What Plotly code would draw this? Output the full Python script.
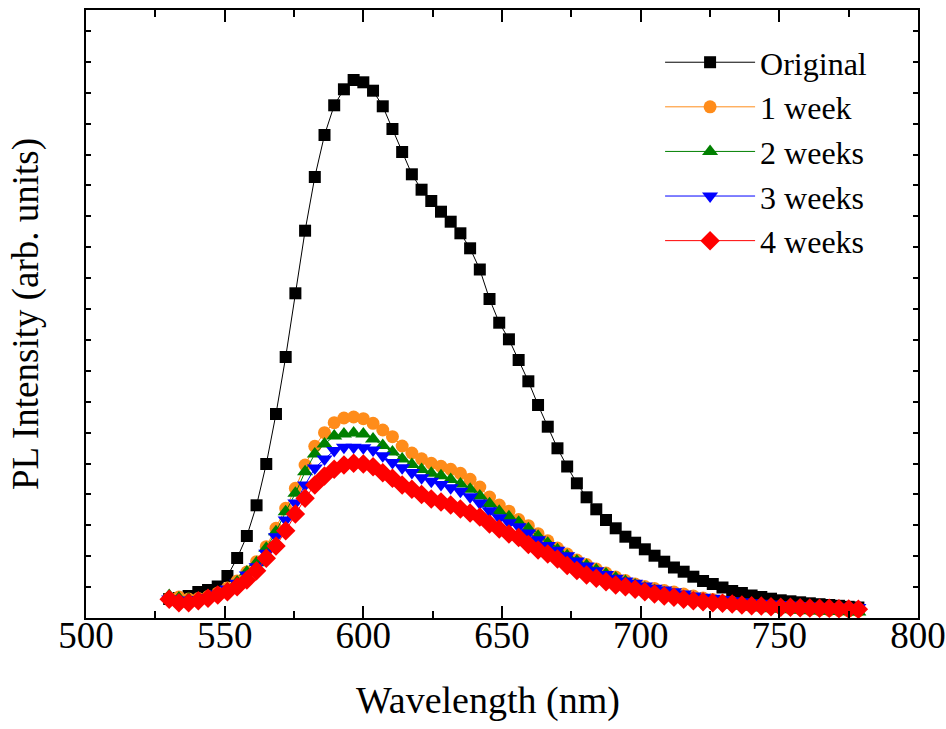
import plotly.graph_objects as go

# wavelength grid (nm): 72 points, 3.5 nm step from 530 nm
wavelength = [530 + 3.5 * k for k in range(72)]

original = [19, 20, 22, 26, 28, 31.5, 42, 60, 82, 112.7, 154, 204, 261, 324.7, 387.3, 441, 483, 512.7,
            528.7, 538, 535.7, 527.3, 511.7, 489, 466, 443.7, 428.3, 417, 406.3, 396.3, 384.7, 369.7,
            348.5, 319, 295.3, 278.7, 258, 236.7, 213, 191.3, 169.7, 151.5, 134.7, 120.7, 108.7, 98,
            89.7, 81.3, 75.3, 68.7, 62.3, 56.3, 50.5, 46.3, 41.3, 37, 34, 30.5, 27, 25, 22.5, 21, 19.3,
            17.7, 16.7, 15.7, 14.7, 13.8, 13, 12.2, 11.2, 10.5]
week1 = [20, 21, 19, 19.5, 21.5, 25, 30, 37, 46, 56.3, 71.3, 89.7, 109.7, 129.7, 153, 171.7, 185.3, 195.3,
         200, 201, 199.3, 194.7, 188, 181.3, 172, 165, 159.2, 154.7, 151.7, 148.7, 144.7, 138.7, 131,
         121, 113, 106.8, 98.5, 92.3, 84.3, 77.2, 70, 64, 58, 53.5, 49, 45, 41, 37.5, 34, 31.5, 29.5,
         27.5, 26, 24, 22, 20, 18.5, 17, 15.5, 14, 13, 12, 11, 10, 9.5, 9, 8.5, 8.2, 7.8, 7.5, 7.2, 7]
week2 = [22.5, 20, 19, 19, 21, 24.5, 29, 36, 46, 55.3, 69.7, 86.3, 106.3, 124.7, 146.3, 164, 174, 182,
         184, 185, 184, 179, 172.5, 166, 159, 153.5, 148.5, 144.7, 142.2, 138.5, 134, 128.7, 122,
         114.3, 106.7, 101.3, 95.8, 89.2, 81.7, 74.7, 68.3, 62.2, 57, 52.5, 48, 44, 40, 36.5, 33, 30,
         27.5, 25, 22.5, 20.5, 18.7, 17, 15.5, 14, 12.8, 11.7, 10.8, 10, 9.3, 8.7, 8.2, 7.7, 7.3, 7,
         6.7, 6.4, 6.2, 6]
week3 = [19, 18, 17.5, 18.5, 20.5, 24, 29, 34.7, 43, 51.3, 64.7, 81.3, 98, 115, 133, 150, 159, 167.5,
         170.7, 170.7, 170.2, 168, 162.2, 155.5, 150.2, 145.5, 140.2, 136.8, 133.5, 130.2, 126.8,
         121.3, 115, 107.3, 100.2, 95.3, 91.3, 85, 78.3, 72.5, 67.7, 62.2, 57, 52, 47.3, 43.5, 39.7,
         37, 34.7, 32, 29.7, 28, 26.3, 24, 22, 20.8, 19.7, 18.5, 17.3, 16.3, 15.3, 14.7, 14, 13.5, 13,
         12.5, 12, 11.7, 11.3, 11, 10.7, 10.5]
week4 = [18.7, 15.3, 15.3, 17.3, 19.7, 23, 26.3, 31.3, 38, 47.3, 59.7, 72, 87.3, 104, 119.7, 133, 142,
         148.7, 153, 154.7, 154, 151.3, 145.3, 139.7, 133, 128.7, 123.5, 119, 116, 113, 109, 105, 101,
         94, 89, 84, 80.5, 73.5, 68, 64, 59, 52.5, 47.5, 43, 39.7, 36.3, 33, 31.3, 28.7, 26.3, 24, 22,
         20.7, 18.7, 17.3, 16.3, 15.3, 14.7, 14, 13, 12.3, 12, 11.3, 10.7, 10.7, 10.3, 10, 9.7, 9.7,
         9.3, 9, 8.7]

series_names = ["Original", "1 week", "2 weeks", "3 weeks", "4 weeks"]
series_values = [original, week1, week2, week3, week4]
colors = ["#000000", "#FF8C1A", "#008000", "#0000FF", "#FF0000"]
symbols = ["square", "circle", "triangle-up", "triangle-down", "diamond"]
sizes = [12, 13, 14, 14, 15]

fig = go.Figure()
for name, vals, c, s, sz in zip(series_names, series_values, colors, symbols, sizes):
    fig.add_trace(go.Scatter(
        x=wavelength, y=vals, name=name, mode="lines+markers",
        line=dict(color=c, width=1),
        marker=dict(symbol=s, size=sz, color=c, line=dict(width=0)),
    ))

font_family = "Liberation Serif"
fig.update_layout(
    width=946, height=729,
    margin=dict(l=86, r=28, t=10, b=111),
    paper_bgcolor="white", plot_bgcolor="white",
    font=dict(family=font_family, color="black", size=36),
    showlegend=True,
    legend=dict(x=0.69, y=0.959, xanchor="left", yanchor="top",
                bgcolor="rgba(0,0,0,0)", font=dict(size=32, family=font_family),
                itemwidth=90, tracegroupgap=0),
    xaxis=dict(range=[500, 800], dtick=50, tick0=500, ticks="inside", ticklen=12, tickwidth=2,
               tickcolor="black", showline=True, linewidth=2, linecolor="black", mirror="ticks",
               showgrid=False, zeroline=False, automargin=False, ticklabelstandoff=-16,
               tickfont=dict(size=37, family=font_family),
               minor=dict(dtick=25, ticks="inside", ticklen=7, tickwidth=2, tickcolor="black", showgrid=False)),
    yaxis=dict(range=[0, 608], dtick=30.9, tick0=0, ticks="inside", ticklen=5, tickwidth=2,
               tickcolor="black", showline=True, linewidth=2, linecolor="black", mirror="ticks",
               showgrid=False, zeroline=False, showticklabels=False, automargin=False,
               title=dict(text="PL Intensity (arb. units)", font=dict(size=37, family=font_family), standoff=34)),
    annotations=[dict(text="Wavelength (nm)", x=0.483, y=-0.135, xref="paper", yref="paper",
                      xanchor="center", yanchor="middle", showarrow=False,
                      font=dict(size=38, family=font_family, color="black"))],
)

fig.write_html("out.html")
